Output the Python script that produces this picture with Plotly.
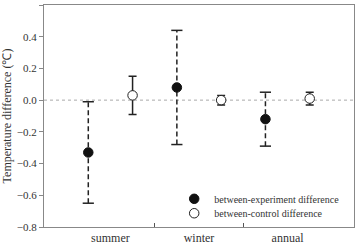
import plotly.graph_objects as go

categories = ["summer", "winter", "annual"]
exp_mean = [-0.33, 0.08, -0.12]
exp_err = [0.32, 0.36, 0.17]
ctl_mean = [0.03, 0.00, 0.01]
ctl_err = [0.12, 0.03, 0.04]
yticks = [-0.8, -0.6, -0.4, -0.2, 0.0, 0.2, 0.4, 0.6]

pos = [1, 2, 3]
off = 0.25
xe = [p - off for p in pos]
xc = [p + off for p in pos]

font = "Liberation Serif, Times New Roman, serif"
fig = go.Figure()

# dashed stems of experiment error bars
sx, sy = [], []
for x, m, e in zip(xe, exp_mean, exp_err):
    sx += [x, x, None]
    sy += [m - e, m + e, None]
fig.add_trace(go.Scatter(x=sx, y=sy, mode="lines", showlegend=False, hoverinfo="skip",
                         line=dict(color="#222", width=1.5, dash="5px,3px")))
# caps
fig.add_trace(go.Scatter(x=xe + xe,
                         y=[m - e for m, e in zip(exp_mean, exp_err)] + [m + e for m, e in zip(exp_mean, exp_err)],
                         mode="markers", showlegend=False, hoverinfo="skip",
                         marker=dict(symbol="line-ew-open", size=8, color="#222",
                                     line=dict(color="#222", width=1.5))))
# control
fig.add_trace(go.Scatter(x=xc, y=ctl_mean, mode="markers", name="between-control difference",
                         legend="legend2",
                         error_y=dict(type="data", array=ctl_err, color="#222", thickness=1.5, width=4),
                         marker=dict(symbol="circle", size=9.5, color="white", line=dict(color="#222", width=1))))
fig.add_trace(go.Scatter(x=xe, y=exp_mean, mode="markers", name="between-experiment difference",
                         legend="legend",
                         marker=dict(symbol="circle", size=9.5, color="#111", line=dict(color="#111", width=1))))

fig.add_shape(type="line", xref="paper", x0=0, x1=1, yref="y", y0=0, y1=0,
              line=dict(color="#aaa", width=1, dash="dot"), layer="below")

leg_common = dict(xanchor="left", yanchor="middle", bgcolor="rgba(0,0,0,0)",
                  font=dict(size=10, family=font, color="#333"), itemwidth=30)

fig.update_layout(
    width=357, height=247,
    margin=dict(l=42, r=2, t=5, b=17),
    paper_bgcolor="white", plot_bgcolor="white",
    font=dict(family=font, size=11, color="#333"),
    showlegend=True,
    legend=dict(x=0.42, y=0.127, **leg_common),
    legend2=dict(x=0.42, y=0.062, **leg_common),
    xaxis=dict(range=[0.25, 3.75], tickvals=pos, ticktext=categories, ticks="",
               showline=True, linecolor="#888", linewidth=1, mirror=True, showgrid=False, zeroline=False,
               tickfont=dict(size=12, family=font, color="#333"),
               minor=dict(tickmode="array", tickvals=[1.5, 2.5], ticks="inside", ticklen=4,
                          tickcolor="#555", showgrid=False)),
    yaxis=dict(range=[-0.8, 0.6], tickvals=yticks, tickformat=".1f", ticks="outside", ticklen=4, tickcolor="#888",
               showline=True, linecolor="#888", linewidth=1, mirror=True, showgrid=False, zeroline=False,
               tickfont=dict(size=11, family=font, color="#333"),
               title=dict(text="Temperature difference (℃)", font=dict(size=12, family=font, color="#333"),
                          standoff=6)),
)
fig.write_html("out.html", config={"displayModeBar": False},
               post_script="document.body.style.margin='0';")
